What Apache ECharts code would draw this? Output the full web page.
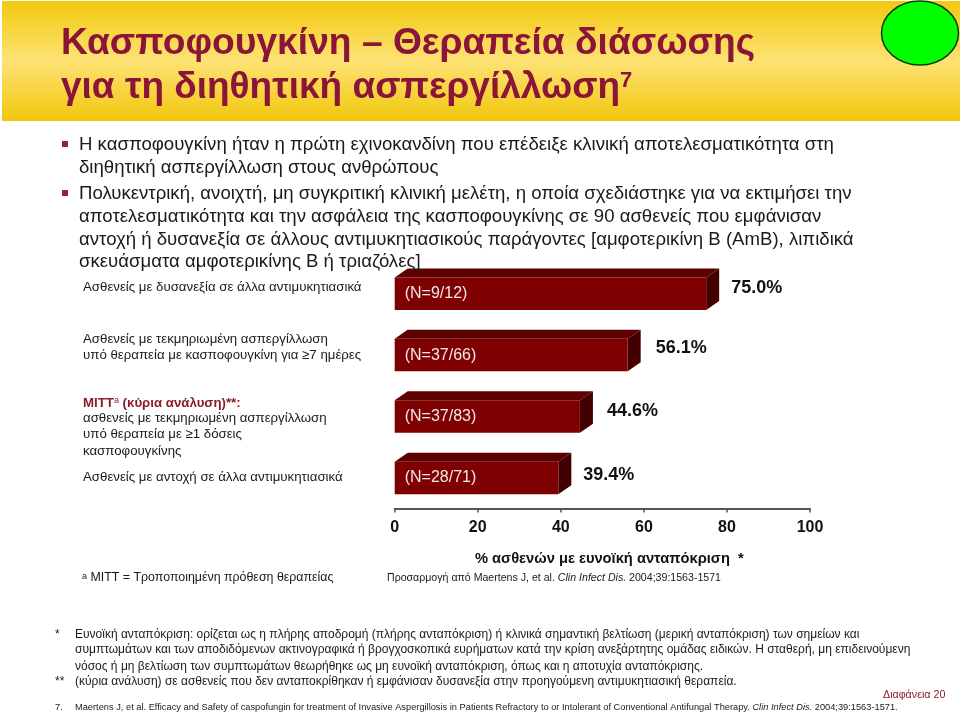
<!DOCTYPE html>
<html>
<head>
<meta charset="utf-8">
<title>Κασποφουγκίνη</title>
<style>
html, body { margin: 0; padding: 0; background: #fff; }
#chart { width: 960px; height: 714px; }
</style>
<script src="https://cdn.jsdelivr.net/npm/echarts@6/dist/echarts.min.js"></script>
</head>
<body>
<div id="chart"></div>
<script>
var categories = ["Δυσανεξία", "Τεκμηριωμένη ≥7 ημέρες", "MITT", "Αντοχή"];
var values = [75.0, 56.1, 44.6, 39.4];
var nLabels = ["(N=9/12)", "(N=37/66)", "(N=37/83)", "(N=28/71)"];
var xTicks = [0, 20, 40, 60, 80, 100];
var axisTitle = "% ασθενών με ευνοϊκή ανταπόκριση  *";

var FONT = '"Liberation Sans", Arial, sans-serif';
var DEPTH_X = 13; //3d depth of the bars
var DEPTH_Y = 9;
var valueOffsetY = [-5.5, -7, -5, -3];
var valueOffsetX = [25, 28, 27, 25];

var chart = echarts.init(document.getElementById("chart"));

//one line of text
function txt (x, y, str, size, color, extra) {
  var style = {
    text: str,
    fontSize: size,
    fontFamily: FONT,
    fill: color,
    verticalAlign: "middle",
    align: "left"
  };
  for (var k in extra) {
    style[k] = extra[k];
  }
  return { type: "text", x: x, y: y, z: 5, silent: true, style: style };
}

function bullet (x, y) {
  return { type: "rect", z: 5, shape: { x: x, y: y, width: 6, height: 6 }, style: { fill: "#8f2436" } };
}

var elements = [];

//header band
elements.push({
  type: "rect", z: 0,
  shape: { x: 2, y: 1, width: 958, height: 120 },
  style: {
    fill: new echarts.graphic.LinearGradient(0, 0, 0, 1, [
      { offset: 0, color: "#f2c90e" },
      { offset: 0.5, color: "#fde274" },
      { offset: 1, color: "#f1c70c" }
    ])
  }
});
elements.push({
  type: "ellipse", z: 1,
  shape: { cx: 920, cy: 33, rx: 38.5, ry: 32 },
  style: { fill: "#00ff00", stroke: "#0a3d0a", lineWidth: 1.5 }
});
elements.push(txt(61, 44, "Κασποφουγκίνη – Θεραπεία διάσωσης", 37.2, "#8a1538", { fontWeight: "bold" }));
elements.push(txt(61, 88, "για τη διηθητική ασπεργίλλωση{s|7}", 37, "#8a1538", {
  fontWeight: "bold",
  rich: { s: { fontSize: 22, fontFamily: FONT, fontWeight: "bold", fill: "#8a1538", verticalAlign: "top" } }
}));

//bullets text
var bodyLines = [
  "Η κασποφουγκίνη ήταν η πρώτη εχινοκανδίνη που επέδειξε κλινική αποτελεσματικότητα στη",
  "διηθητική ασπεργίλλωση στους ανθρώπους",
  "Πολυκεντρική, ανοιχτή, μη συγκριτική κλινική μελέτη, η οποία σχεδιάστηκε για να εκτιμήσει την",
  "αποτελεσματικότητα και την ασφάλεια της κασποφουγκίνης σε 90 ασθενείς που εμφάνισαν",
  "αντοχή ή δυσανεξία σε άλλους αντιμυκητιασικούς παράγοντες [αμφοτερικίνη Β (AmB), λιπιδικά",
  "σκευάσματα αμφοτερικίνης Β ή τριαζόλες]"
];
var bodyY = [145, 168, 194, 217, 240, 262];
for (var i = 0; i < bodyLines.length; i++) {
  elements.push(txt(79, bodyY[i], bodyLines[i], 18.6, "#1a1a1a"));
}
elements.push(bullet(62, 141));
elements.push(bullet(62, 190));

//row labels left of the bars
var rowLines = [
  [287, "Ασθενείς με δυσανεξία σε άλλα αντιμυκητιασικά"],
  [339, "Ασθενείς με τεκμηριωμένη ασπεργίλλωση"],
  [355, "υπό θεραπεία με κασποφουγκίνη για ≥7 ημέρες"],
  [418, "ασθενείς με τεκμηριωμένη ασπεργίλλωση"],
  [434, "υπό θεραπεία με ≥1 δόσεις"],
  [451, "κασποφουγκίνης"],
  [477, "Ασθενείς με αντοχή σε άλλα αντιμυκητιασικά"]
];
for (var i = 0; i < rowLines.length; i++) {
  elements.push(txt(83, rowLines[i][0], rowLines[i][1], 13.25, "#1a1a1a"));
}
elements.push(txt(83, 403, "MITT{s|a} (κύρια ανάλυση)**:", 13.25, "#8a1c2c", {
  fontWeight: "bold",
  rich: { s: { fontSize: 9, fontFamily: FONT, fill: "#8a1c2c", verticalAlign: "top" } }
}));

//notes under the chart
elements.push(txt(82, 578, "{s|a} MITT = Τροποποιημένη πρόθεση θεραπείας", 12.4, "#1a1a1a", {
  rich: { s: { fontSize: 9, fontFamily: FONT, fill: "#1a1a1a", verticalAlign: "top" } }
}));
elements.push(txt(387, 578, "Προσαρμογή από Maertens J, et al. {i|Clin Infect Dis.} 2004;39:1563-1571", 10.6, "#1a1a1a", {
  rich: { i: { fontSize: 10.6, fontFamily: FONT, fontStyle: "italic", fill: "#1a1a1a" } }
}));

var footLines = [
  [55, 635, "*"],
  [75, 635, "Ευνοϊκή ανταπόκριση: ορίζεται ως η πλήρης αποδρομή (πλήρης ανταπόκριση) ή κλινικά σημαντική βελτίωση (μερική ανταπόκριση) των σημείων και"],
  [75, 650, "συμπτωμάτων και των αποδιδόμενων ακτινογραφικά ή βρογχοσκοπικά ευρήματων κατά την κρίση ανεξάρτητης ομάδας ειδικών. Η σταθερή, μη επιδεινούμενη"],
  [75, 667, "νόσος ή μη βελτίωση των συμπτωμάτων θεωρήθηκε ως μη ευνοϊκή ανταπόκριση, όπως και η αποτυχία ανταπόκρισης."],
  [55, 682, "**"],
  [75, 682, "(κύρια ανάλυση) σε ασθενείς που δεν ανταποκρίθηκαν ή εμφάνισαν δυσανεξία στην προηγούμενη αντιμυκητιασική θεραπεία."]
];
for (var i = 0; i < footLines.length; i++) {
  elements.push(txt(footLines[i][0], footLines[i][1], footLines[i][2], 12, "#1a1a1a"));
}
elements.push(txt(883, 695, "Διαφάνεια 20", 10.7, "#8a1c2c"));
elements.push(txt(55, 707, "7.", 9.3, "#1a1a1a"));
elements.push(txt(75, 707, "Maertens J, et al. Efficacy and Safety of caspofungin for treatment of Invasive Aspergillosis in Patients Refractory to or Intolerant of Conventional Antifungal Therapy. {i|Clin Infect Dis.} 2004;39:1563-1571.", 9.27, "#1a1a1a", {
  rich: { i: { fontSize: 9.27, fontFamily: FONT, fontStyle: "italic", fill: "#1a1a1a" } }
}));

//top and side faces of a bar, plus the value next to it
function renderDepth (params, api) {
  var idx = params.dataIndex;
  var end = api.coord([api.value(0), idx]);
  var start = api.coord([0, idx]);
  var h = api.size([0, 1])[1] * 0.53;
  var top = end[1] - h / 2;
  var bottom = end[1] + h / 2;
  return {
    type: "group",
    children: [
      {
        type: "polygon",
        shape: { points: [[start[0], top], [start[0] + DEPTH_X, top - DEPTH_Y], [end[0] + DEPTH_X, top - DEPTH_Y], [end[0], top]] },
        style: { fill: "#5c0000" }
      },
      {
        type: "polygon",
        shape: { points: [[end[0], top], [end[0] + DEPTH_X, top - DEPTH_Y], [end[0] + DEPTH_X, bottom - DEPTH_Y], [end[0], bottom]] },
        style: { fill: "#420000" }
      },
      {
        type: "text",
        x: end[0] + valueOffsetX[idx],
        y: end[1] + valueOffsetY[idx],
        style: {
          text: api.value(0).toFixed(1) + "%",
          fontSize: 18,
          fontWeight: "bold",
          fontFamily: FONT,
          fill: "#111",
          verticalAlign: "middle"
        }
      }
    ]
  };
}

chart.setOption({
  animation: false,
  backgroundColor: "#fff",
  graphic: { elements: elements },
  grid: { left: 394.7, top: 263, width: 415.3, height: 245.6 },
  xAxis: {
    type: "value",
    min: 0,
    max: 100,
    interval: 20,
    position: "bottom",
    splitLine: { show: false },
    axisLine: { show: true, lineStyle: { color: "#555", width: 2 } },
    axisTick: { show: true, length: 4, inside: false, lineStyle: { color: "#555", width: 1.5 } },
    axisLabel: {
      margin: 11,
      fontSize: 16,
      fontWeight: "bold",
      fontFamily: FONT,
      color: "#111",
      hideOverlap: false,
      showMinLabel: true,
      showMaxLabel: true,
      formatter: function (v) { return xTicks.indexOf(v) >= 0 ? String(v) : ""; }
    },
    name: axisTitle,
    nameLocation: "middle",
    nameGap: 43,
    nameTextStyle: { fontSize: 14.7, fontWeight: "bold", fontFamily: FONT, color: "#111", padding: [0, 0, 0, 14] }
  },
  yAxis: {
    type: "category",
    inverse: true,
    data: categories,
    axisLine: { show: false },
    axisTick: { show: false },
    axisLabel: { show: false }
  },
  series: [
    {
      type: "custom",
      z: 1,
      clip: false,
      encode: { x: 0, y: 1 },
      data: values.map(function (v, i) { return [v, i]; }),
      renderItem: renderDepth
    },
    {
      type: "bar",
      z: 2,
      barWidth: 32.5,
      data: values,
      itemStyle: { color: "#7f0000" },
      label: {
        show: true,
        position: "insideLeft",
        distance: 10,
        fontSize: 16,
        fontFamily: FONT,
        color: "#f2e6e6",
        formatter: function (p) { return nLabels[p.dataIndex]; }
      }
    }
  ]
});
</script>
</body>
</html>
